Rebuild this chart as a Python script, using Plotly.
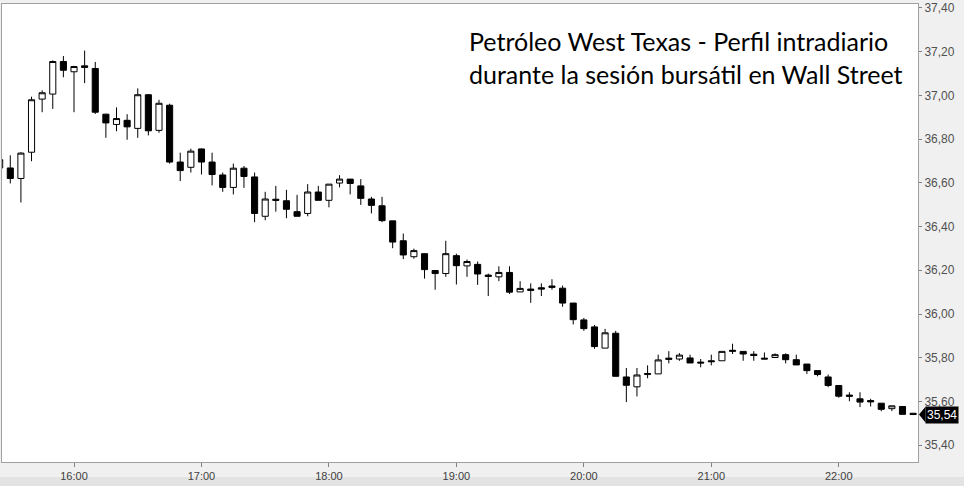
import pandas as pd
import plotly.graph_objects as go

start_time = "2016-03-18 15:25"
opens = [36.668, 36.668, 36.620, 36.740, 36.983, 37.006, 37.155,
         37.108, 37.135, 37.123, 36.914, 36.867, 36.886, 36.849, 37.003, 36.840, 36.955, 36.695, 36.671,
         36.755, 36.695, 36.636, 36.579, 36.667, 36.627, 36.447, 36.525, 36.518, 36.468, 36.460, 36.558,
         36.520, 36.599, 36.617, 36.586, 36.526, 36.495, 36.426, 36.335, 36.262, 36.276, 36.199, 36.185,
         36.267, 36.220, 36.227, 36.178, 36.170, 36.190, 36.101, 36.114, 36.120, 36.128, 36.118, 36.050,
         35.973, 35.941, 35.844, 35.912, 35.712, 35.667, 35.723, 35.726, 35.798, 35.794, 35.799, 35.780,
         35.786, 35.786, 35.834, 35.829, 35.816, 35.798, 35.801, 35.814, 35.791, 35.771, 35.741, 35.712,
         35.673, 35.629, 35.612, 35.604, 35.592, 35.567, 35.577, 35.546]
highs = [36.720, 36.726, 36.740, 36.994, 37.023, 37.160, 37.180,
         37.135, 37.205, 37.153, 36.916, 36.945, 36.914, 37.032, 37.006, 36.980, 36.962, 36.738, 36.756,
         36.757, 36.738, 36.647, 36.688, 36.677, 36.647, 36.559, 36.586, 36.568, 36.545, 36.594, 36.586,
         36.594, 36.635, 36.617, 36.617, 36.536, 36.536, 36.426, 36.368, 36.299, 36.276, 36.199, 36.335,
         36.276, 36.249, 36.240, 36.185, 36.218, 36.218, 36.150, 36.140, 36.140, 36.159, 36.130, 36.050,
         35.982, 35.950, 35.932, 35.923, 35.753, 35.753, 35.765, 35.814, 35.830, 35.821, 35.814, 35.794,
         35.814, 35.829, 35.864, 35.829, 35.830, 35.824, 35.820, 35.820, 35.814, 35.771, 35.741, 35.723,
         35.673, 35.642, 35.642, 35.612, 35.592, 35.580, 35.577, 35.546]
lows = [36.660, 36.597, 36.510, 36.699, 36.923, 36.938, 37.083,
        36.923, 37.056, 36.915, 36.806, 36.836, 36.797, 36.806, 36.817, 36.829, 36.688, 36.608, 36.647,
        36.638, 36.588, 36.559, 36.547, 36.577, 36.420, 36.429, 36.468, 36.438, 36.447, 36.447, 36.520,
        36.488, 36.579, 36.547, 36.499, 36.460, 36.420, 36.301, 36.251, 36.253, 36.162, 36.111, 36.170,
        36.135, 36.170, 36.133, 36.082, 36.150, 36.092, 36.101, 36.051, 36.082, 36.111, 36.033, 35.952,
        35.923, 35.841, 35.844, 35.715, 35.597, 35.623, 35.706, 35.726, 35.774, 35.786, 35.776, 35.756,
        35.765, 35.786, 35.817, 35.786, 35.786, 35.794, 35.801, 35.774, 35.767, 35.726, 35.715, 35.665,
        35.617, 35.601, 35.574, 35.577, 35.555, 35.556, 35.541, 35.538]
closes = [36.706, 36.620, 36.736, 36.980, 37.012, 37.155, 37.115,
          37.132, 37.128, 36.923, 36.874, 36.894, 36.856, 37.003, 36.838, 36.964, 36.695, 36.656, 36.745,
          36.695, 36.638, 36.579, 36.667, 36.629, 36.460, 36.526, 36.520, 36.479, 36.447, 36.558, 36.520,
          36.594, 36.617, 36.597, 36.529, 36.497, 36.427, 36.329, 36.270, 36.290, 36.203, 36.185, 36.276,
          36.221, 36.240, 36.183, 36.172, 36.190, 36.100, 36.117, 36.108, 36.114, 36.122, 36.050, 35.974,
          35.933, 35.851, 35.914, 35.715, 35.674, 35.721, 35.728, 35.790, 35.793, 35.812, 35.776, 35.776,
          35.782, 35.829, 35.830, 35.817, 35.810, 35.794, 35.814, 35.791, 35.767, 35.741, 35.723, 35.673,
          35.624, 35.624, 35.597, 35.598, 35.564, 35.580, 35.541, 35.540]

times = pd.date_range(start_time, periods=len(opens), freq="5min")

title_lines = ["Petróleo West Texas - Perfil intradiario",
               "durante la sesión bursátil en Wall Street"]
y_ticks = [35.40, 35.60, 35.80, 36.00, 36.20, 36.40, 36.60, 36.80, 37.00, 37.20, 37.40]
y_range = [35.323, 37.418]
x_range = ["2016-03-18 15:26:06", "2016-03-18 22:37:18"]

fig = go.Figure(go.Candlestick(
    x=times, open=opens, high=highs, low=lows, close=closes,
    increasing=dict(fillcolor="white", line=dict(color="black", width=1)),
    decreasing=dict(fillcolor="black", line=dict(color="black", width=1)),
    whiskerwidth=0, hoverinfo="skip", showlegend=False,
))

last = closes[-1]
last_txt = f"{last:.2f}".replace(".", ",")
fig.add_annotation(x=1.0 + 7 / 918, y=last, xref="paper", yref="y", xanchor="left",
                   yanchor="middle", text=last_txt, showarrow=False, bgcolor="black",
                   font=dict(family="Liberation Sans", size=12, color="white"), borderpad=1)
fig.add_shape(type="path", xref="paper", yref="y",
              path=f"M {1.0 + 1/918} {last} L {1.0 + 7.5/918} {last + 0.036} L {1.0 + 7.5/918} {last - 0.036} Z",
              fillcolor="black", line=dict(width=0))

# darker strip along the bottom edge of the window
fig.add_shape(type="rect", xref="paper", yref="paper", x0=-0.01, x1=1.06,
              y0=-(477 - 462) / 461, y1=-(490 - 462) / 461,
              fillcolor="#e3e3e3", line=dict(width=0), layer="below")

fig.add_annotation(x=466 / 918, y=1 - 20 / 461, xref="paper", yref="paper", xanchor="left",
                   yanchor="top", align="left", showarrow=False,
                   text="<br>".join(title_lines),
                   font=dict(family="Lato", size=25, color="black"))

fig.update_layout(
    width=964, height=486,
    margin=dict(l=1, r=46, t=1, b=24),
    paper_bgcolor="#f0f0f0", plot_bgcolor="white",
    separators=",.",
    boxgap=0.18,
    xaxis=dict(type="date", range=x_range, rangeslider=dict(visible=False),
               tickformat="%H:%M", dtick=3600000, tick0="2016-03-18 16:00",
               showgrid=False, zeroline=False, showline=True, mirror=True, linecolor="#a0a0a0",
               ticks="outside", ticklen=4, tickcolor="#808080",
               tickfont=dict(family="Liberation Sans", size=11, color="#404040")),
    yaxis=dict(side="right", range=y_range, tickvals=y_ticks, tickformat=".2f",
               showgrid=False, zeroline=False, showline=True, mirror=True, linecolor="#a0a0a0",
               ticks="outside", ticklen=3, tickcolor="#808080", ticklabeloverflow="allow",
               tickfont=dict(family="Liberation Sans", size=12, color="#505050")),
)

fig.write_html("out.html")
